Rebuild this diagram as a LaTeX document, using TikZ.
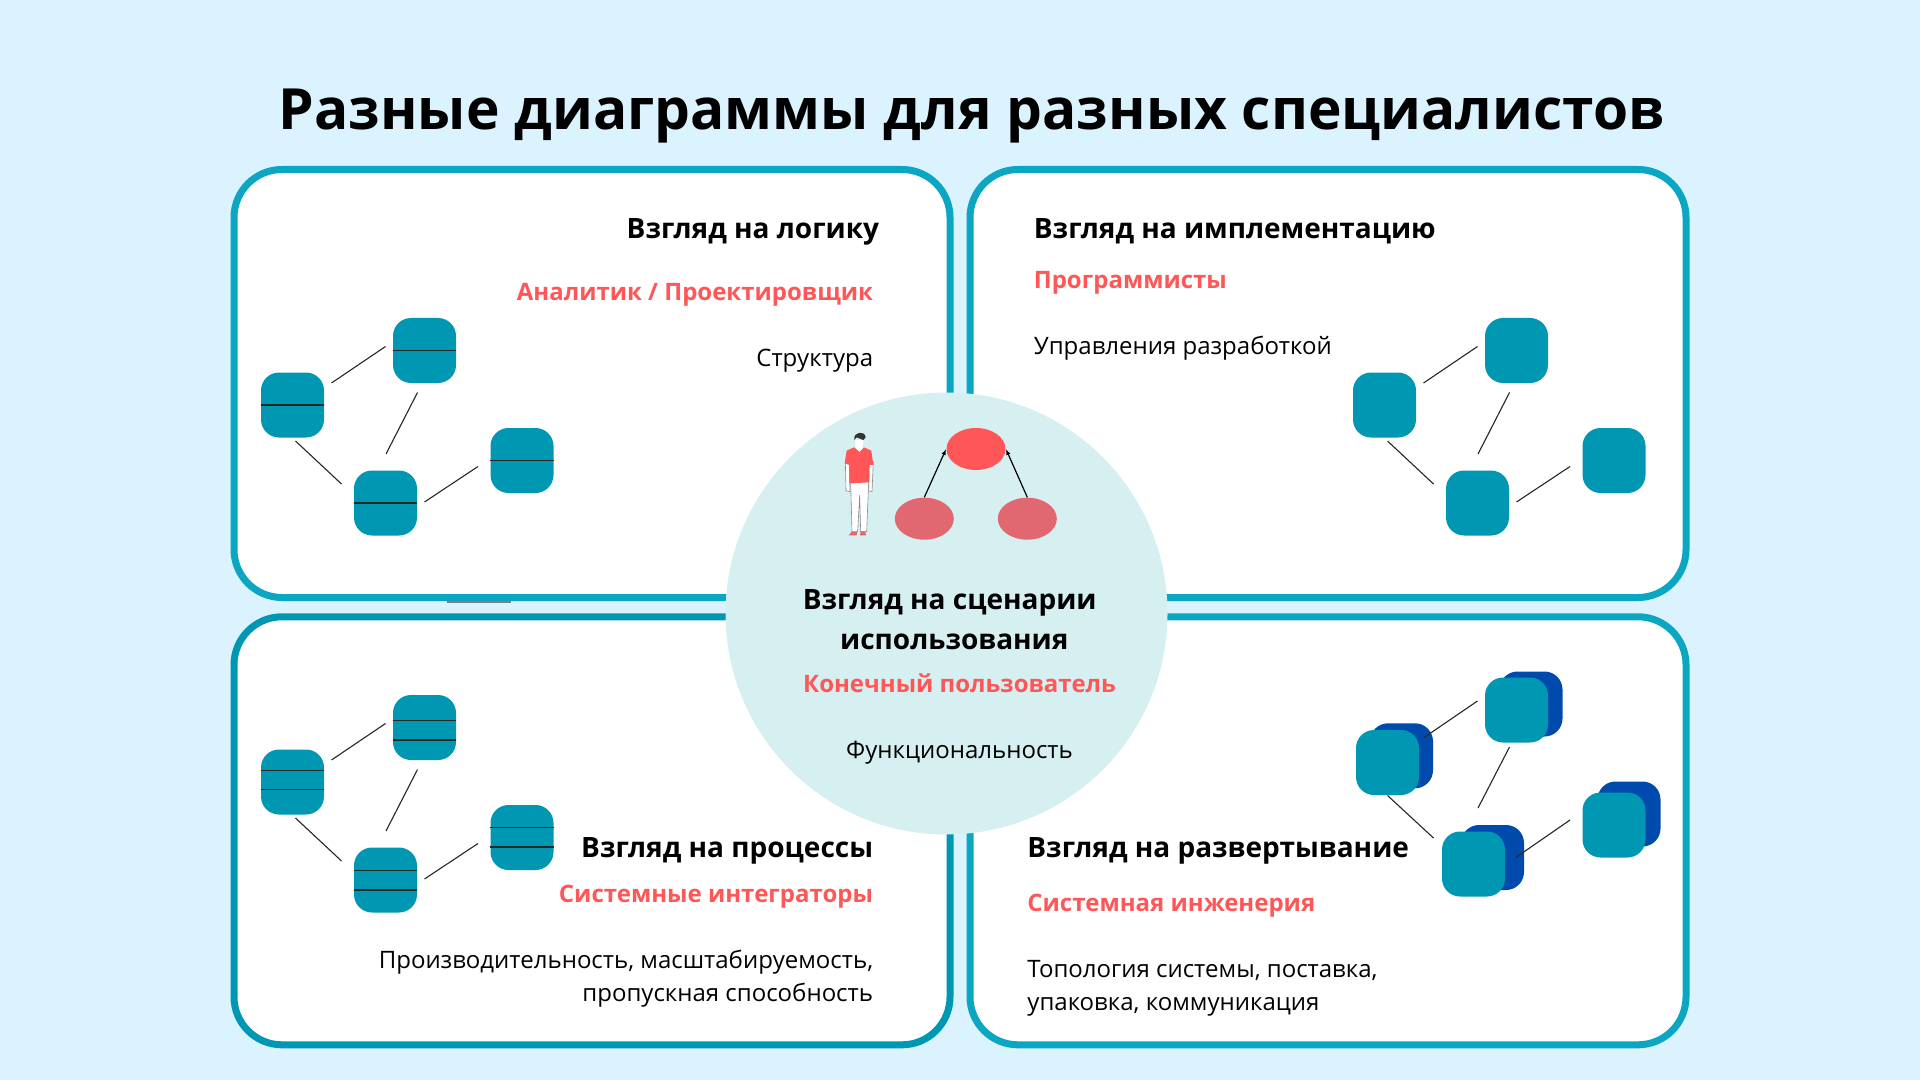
\documentclass[tikz,border=0pt]{standalone}
\usepackage{fontspec}
\setmainfont{Open Sans}
\usetikzlibrary{arrows.meta}
\usetikzlibrary{positioning}
\usetikzlibrary{shapes.geometric}
\definecolor{bgblue}{HTML}{DBF3FF}
\definecolor{panellight}{HTML}{0AA6C2}
\definecolor{paneldark}{HTML}{0097B2}
\definecolor{backblue}{HTML}{004AAD}
\definecolor{disc}{HTML}{D6EFF1}
\definecolor{redtext}{HTML}{FF5757}
\definecolor{redsoft}{HTML}{E16871}
\newcommand*\px{0.5pt}
\tikzset{
    panel/.style = {draw,fill=white,line width=3.5pt,rounded corners=24pt,inner sep=0,minimum width=716*\px,minimum height=428*\px},
    block/.style = {shape=rectangle,fill=paneldark,rounded corners=9pt,minimum width=63*\px,minimum height=65*\px,inner sep=0},
    backblock/.style = {block,fill=backblue},
    conn/.style = {line width=0.55pt,black!85},
    sep/.style = {line width=0.7pt,black!85},
    usecase/.style = {shape=ellipse,inner sep=0,minimum width=59*\px,minimum height=42*\px},
    pre/.style = {line width=0.6pt,-{Latex[length=3pt,width=2.2pt]}},
    heading/.style = {font=\fontsize{14}{18}\selectfont\bfseries,inner sep=0},
    role/.style = {font=\fontsize{12}{16}\selectfont\bfseries,text=redtext,inner sep=0},
    body/.style = {font=\fontsize{12}{16.5}\selectfont,inner sep=0}
}
\begin{document}
\begin{tikzpicture}[x=\px,y=-\px]
    \useasboundingbox[fill=bgblue] (0,0) rectangle (1920,1080);
    % Title
    \node[inner sep=0,font=\fontsize{28.4}{34}\selectfont\bfseries] (title) at (972,116.5) {Разные диаграммы для разных специалистов};
    % Panels
    \node[panel,draw=panellight] (logic) at (592,383.5) {};
    \node[panel,draw=panellight] (impl) at (1328,383.5) {};
    \node[panel,draw=paneldark] (proc) at (592,830.8) {};
    \node[panel,draw=panellight] (depl) at (1328,830.8) {};
    \fill[gray] (447,601) rectangle (511,603);
    % Class blocks, same layout in the three panels
    \foreach \pre/\dx/\dy in {l/0/0,i/1092/0,p/0/377}{
        \begin{scope}[shift={(\dx,\dy)},name prefix=\pre]
            \node[block] (a) at (292.5,405) {};
            \node[block] (b) at (424.5,350.5) {};
            \node[block] (c) at (385.5,503) {};
            \node[block] (d) at (522,460.5) {};
            \draw[conn] ([shift={(39,-22)}]a.center) to ([shift={(-39,-4)}]b.center);
            \draw[conn] ([shift={(-7,42)}]b.center) to ([shift={(0.5,-49)}]c.center);
            \draw[conn] ([shift={(3,36)}]a.center) to ([shift={(-44,-19)}]c.center);
            \draw[conn] ([shift={(39,-1)}]c.center) to ([shift={(-44,6)}]d.center);
        \end{scope}
    }
    % Compartments
    \foreach \n/\up/\dn in {a/11.5/-7.5,b/7/-12.5,c/9.5/-10,d/9.8/-9.5}{
        \draw[sep] (l\n.west) to (l\n.east);
        \draw[sep] ([yshift=\up*\px]p\n.west) to ([yshift=\up*\px]p\n.east);
        \draw[sep] ([yshift=\dn*\px]p\n.west) to ([yshift=\dn*\px]p\n.east);
    }
    % Deployment blocks
    \node[backblock] (ab) at (1401.5,755.8) {};
    \node[block] (a) at (1387.5,762.5) {};
    \node[backblock] (bb) at (1531,704) {};
    \node[block] (b) at (1516.5,710) {};
    \node[backblock] (cb) at (1492.5,857.5) {};
    \node[block] (c) at (1473.5,864) {};
    \node[backblock] (db) at (1629,814) {};
    \node[block] (d) at (1614,825) {};
    \draw[conn] ([shift={(36.5,-25)}]a.center) to ([shift={(-39,-9)}]b.center);
    \draw[conn] ([shift={(-7,37)}]b.center) to ([shift={(4.5,-56)}]c.center);
    \draw[conn] ([shift={(0,33)}]a.center) to ([shift={(-40,-26)}]c.center);
    \draw[conn] ([shift={(43,-7)}]c.center) to ([shift={(-44,-5)}]d.center);
    % Centre
    \node[shape=circle,fill=disc,inner sep=0,minimum size=442*\px] (centre) at (946.5,613.5) {};
    \node[usecase,fill=redtext] (goal) at (976,449) {};
    \node[usecase,fill=redsoft] (left) at (924.3,518.7) {};
    \node[usecase,fill=redsoft] (right) at (1027.3,518.7) {};
    \draw[pre] (left.north) to (goal.west);
    \draw[pre] (right.north) to (goal.east);
    % Person
    \begin{scope}[shift={(820,420)},x=\px/3,y=-\px/3]
        \fill[white,draw=black!45,line width=0.3pt] (92,185) -- (146,185) -- (140,335) -- (122,335) -- (119,225) -- (113,335) -- (96,338) -- cycle;
        \fill[white,draw=black!45,line width=0.3pt] (76,125) -- (88,125) -- (90,215) -- (78,212) -- cycle;
        \fill[white,draw=black!45,line width=0.3pt] (148,125) -- (160,125) -- (156,215) -- (146,212) -- cycle;
        \fill[redtext] (102,82) -- (118,95) -- (132,82) -- (154,92) -- (160,135) -- (148,135) -- (148,187) -- (88,190) -- (88,135) -- (74,130) -- (80,92) -- cycle;
        \fill[white] (106,60) -- (130,60) -- (128,85) -- (118,95) -- (106,82) -- cycle;
        \fill[black!80] (103,60) .. controls (98,35) and (135,30) .. (137,52) -- (130,60) -- (110,52) -- cycle;
        \fill[redsoft] (86,346) -- (96,334) -- (112,334) -- (110,346) -- cycle;
        \fill[redsoft] (120,346) -- (122,334) -- (136,334) -- (138,346) -- cycle;
    \end{scope}
    % Texts
    \node[heading,anchor=east] (logichead) at (879.5,232) {Взгляд на логику};
    \node[role,anchor=east] (logicrole) at (873.5,295) {Аналитик / Проектировщик};
    \node[body,anchor=east] (logicbody) at (873.5,361) {Структура};
    \node[heading,anchor=west] (implhead) at (1033.5,231) {Взгляд на имплементацию};
    \node[role,anchor=west] (implrole) at (1033.5,283) {Программисты};
    \node[body,anchor=west] (implbody) at (1033.5,348) {Управления разработкой};
    \node[heading,anchor=east] (prochead) at (873.5,851) {Взгляд на процессы};
    \node[role,anchor=east] (procrole) at (873.5,897) {Системные интеграторы};
    \node[body,anchor=east,align=right] (procbody) at (873.5,979) {Производительность, масштабируемость,\\пропускная способность};
    \node[heading,anchor=west] (deplhead) at (1027,851) {Взгляд на развертывание};
    \node[role,anchor=west] (deplrole) at (1027,906) {Системная инженерия};
    \node[body,anchor=west,align=left] (deplbody) at (1027,988.5) {Топология системы, поставка,\\упаковка, коммуникация};
    \node[heading] (usehead) at (949.7,602.5) {Взгляд на сценарии};
    \node[heading] (useheadb) at (954.3,641.5) {использования};
    \node[role] (userole) at (959.5,683) {Конечный пользователь};
    \node[body] (usebody) at (959.5,753) {Функциональность};
\end{tikzpicture}
\end{document}
